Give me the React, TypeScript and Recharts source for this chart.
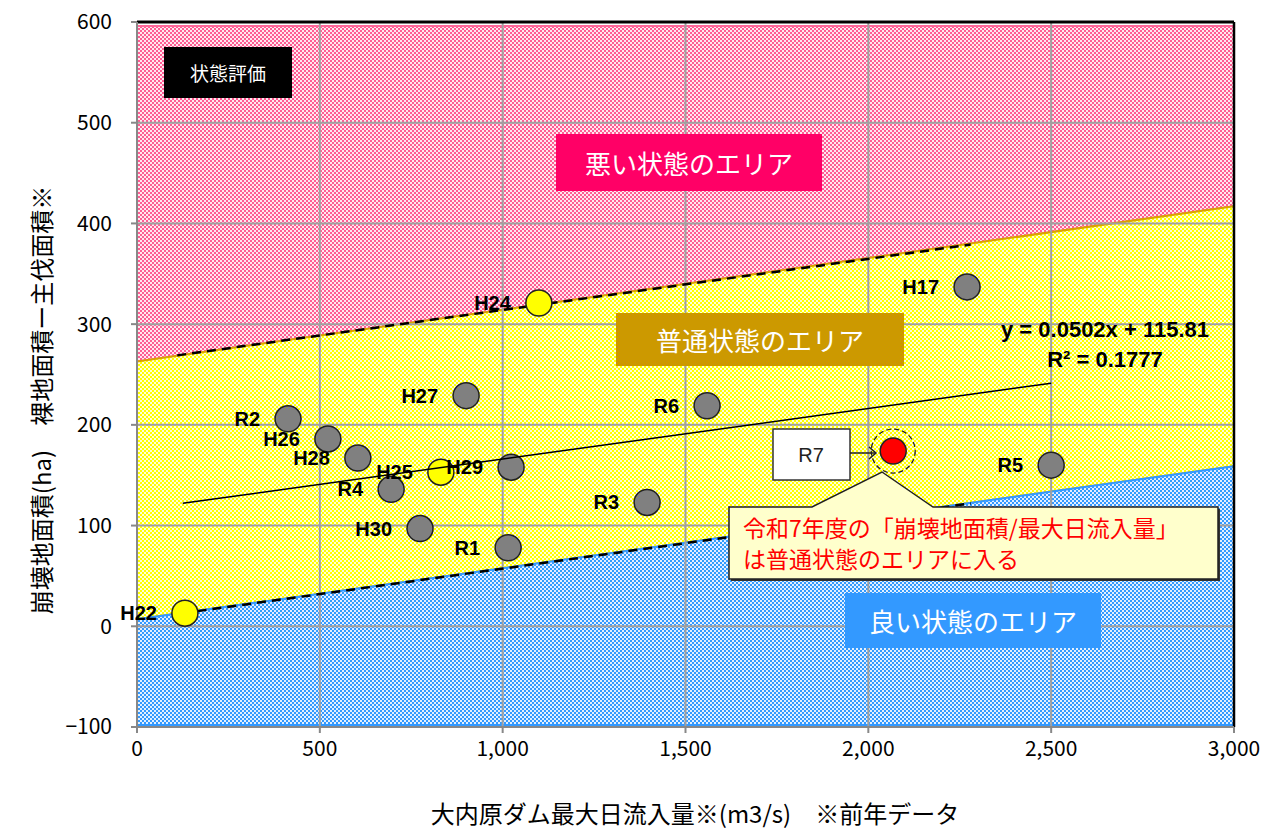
import {
  Area,
  ComposedChart,
  ReferenceLine,
  Scatter,
  XAxis,
  YAxis,
} from 'recharts';

// x = 大内原ダム最大日流入量 (m3/s), y = 崩壊地面積 (ha)
const xTicks = [0, 500, 1000, 1500, 2000, 2500, 3000];
const yTicks = [-100, 0, 100, 200, 300, 400, 500, 600];

// area boundaries
const boundaryFlow = [0, 3000];
const upperBoundary = [263, 417];
const lowerBoundary = [7, 159];
const areaTop = 596;
const areaBottom = -98;

// dashed guide lines along the boundaries
const upperGuideFlow = [110, 2280];
const upperGuideArea = [269, 379];
const lowerGuideFlow = [125, 2280];
const lowerGuideArea = [13, 122];

// past years (gray)
const grayLabels = ['H17', 'R6', 'H27', 'R2', 'H26', 'H28', 'R4', 'H30', 'R1', 'H29', 'R3', 'R5'];
const grayFlow = [2270, 1559, 900, 413, 522, 604, 695, 774, 1015, 1023, 1395, 2500];
const grayArea = [337, 219, 229, 206, 186, 167, 136, 97, 78, 158, 123, 160];

// boundary years (yellow)
const yellowLabels = ['H22', 'H24', 'H25'];
const yellowFlow = [131, 1099, 831];
const yellowArea = [13, 321, 153];

// this year
const currentLabel = 'R7';
const currentFlow = 2068;
const currentArea = 174;

// trend line y = 0.0502x + 115.81
const trendSlope = 0.0502;
const trendIntercept = 115.81;
const trendFlow = [125, 2500];

const FONT = "'Noto Sans CJK JP', 'Noto Sans', sans-serif";
const LABEL_FONT = "'Liberation Sans', Arial, sans-serif";

const bandRows = boundaryFlow.map((x, i) => ({
  x,
  good: [areaBottom, lowerBoundary[i]],
  normal: [lowerBoundary[i], upperBoundary[i]],
  bad: [upperBoundary[i], areaTop],
}));

const toPoints = (labels: string[], xs: number[], ys: number[]) =>
  xs.map((x, i) => ({ x, y: ys[i], label: labels[i] }));

const grayPoints = toPoints(grayLabels, grayFlow, grayArea);
const yellowPoints = toPoints(yellowLabels, yellowFlow, yellowArea);
const currentPoints = [{ x: currentFlow, y: currentArea, label: currentLabel }];
const labelPoints = [...yellowPoints, ...grayPoints];
const upperGuide = upperGuideFlow.map((x, i) => ({ x, y: upperGuideArea[i] }));
const lowerGuide = lowerGuideFlow.map((x, i) => ({ x, y: lowerGuideArea[i] }));
const trendPoints = trendFlow.map((x) => ({ x, y: trendSlope * x + trendIntercept }));

const noShape = () => <g />;

const dot = (fill: string) => (p: any) => (
  <circle cx={p.cx} cy={p.cy} r={13} fill={fill} stroke="#222" strokeWidth={1.5} />
);

const currentDot = (p: any) => (
  <g>
    <circle cx={p.cx} cy={p.cy} r={22} fill="none" stroke="#222" strokeWidth={1.3} strokeDasharray="5 3" />
    <circle cx={p.cx} cy={p.cy} r={13} fill="#FF0000" stroke="#222" strokeWidth={1.5} />
  </g>
);

const pointLabel = (p: any) => (
  <text
    x={p.cx - 28}
    y={p.cy}
    textAnchor="end"
    dominantBaseline="central"
    fontFamily={LABEL_FONT}
    fontWeight="bold"
    fontSize={20}
    fill="#000"
  >
    {p.payload.label}
  </text>
);

function Pattern({ id, color }: { id: string; color: string }) {
  return (
    <pattern id={id} width="4" height="4" patternUnits="userSpaceOnUse">
      <rect width="4" height="4" fill={color} />
      <rect x="0" y="0" width="2" height="2" fill="#fff" opacity="0.85" />
      <rect x="2" y="2" width="2" height="2" fill="#fff" opacity="0.85" />
    </pattern>
  );
}

function Tag({ x, y, w, h, bg, text, size }: any) {
  return (
    <g>
      <rect x={x} y={y} width={w} height={h} fill={bg} />
      <text
        x={x + w / 2}
        y={y + h / 2}
        textAnchor="middle"
        dominantBaseline="central"
        fill="#fff"
        fontSize={size}
        fontFamily={FONT}
      >
        {text}
      </text>
    </g>
  );
}

export default function App() {
  return (
    <div style={{ position: 'absolute', left: 0, top: 0, width: 1261, height: 830, background: '#fff' }}>
      <ComposedChart
        width={1261}
        height={830}
        data={bandRows}
        margin={{ top: 22, right: 27, left: 60, bottom: 63 }}
      >
        <defs>
          <Pattern id="hatchBad" color="#FF5C93" />
          <Pattern id="hatchNormal" color="#FFFF00" />
          <Pattern id="hatchGood" color="#3399FF" />
        </defs>
        <XAxis
          type="number"
          dataKey="x"
          domain={[0, 3000]}
          ticks={xTicks}
          height={40}
          tickSize={6}
          tickMargin={8}
          axisLine={{ stroke: '#888', strokeWidth: 2 }}
          tickLine={{ stroke: '#888', strokeWidth: 2 }}
          tick={{ fill: '#000', fontSize: 21, fontFamily: FONT }}
          tickFormatter={(v: number) => v.toLocaleString('en-US')}
        />
        <YAxis
          type="number"
          dataKey="y"
          domain={[-100, 600]}
          ticks={yTicks}
          width={77}
          tickSize={6}
          tickMargin={19}
          axisLine={{ stroke: '#888', strokeWidth: 2 }}
          tickLine={{ stroke: '#888', strokeWidth: 2 }}
          tick={{ fill: '#000', fontSize: 21, fontFamily: FONT }}
          tickFormatter={(v: number) => String(v).replace('-', '−')}
        />
        <Area
          type="linear"
          dataKey="bad"
          fill="url(#hatchBad)"
          fillOpacity={1}
          stroke="#FF6699"
          strokeWidth={2}
          isAnimationActive={false}
        />
        <Area
          type="linear"
          dataKey="normal"
          fill="url(#hatchNormal)"
          fillOpacity={1}
          stroke="#D9A300"
          strokeWidth={2}
          isAnimationActive={false}
        />
        <Area
          type="linear"
          dataKey="good"
          fill="url(#hatchGood)"
          fillOpacity={1}
          stroke="#3399FF"
          strokeWidth={2}
          isAnimationActive={false}
        />
        {xTicks.slice(1, -1).map((v) => (
          <ReferenceLine key={`gx${v}`} x={v} stroke="#A0A0A0" strokeWidth={2} />
        ))}
        {yTicks.slice(1, -1).map((v) => (
          <ReferenceLine key={`gy${v}`} y={v} stroke="#A0A0A0" strokeWidth={2} />
        ))}
        <ReferenceLine y={600} stroke="#000" strokeWidth={3} />
        <ReferenceLine x={3000} stroke="#000" strokeWidth={2.5} />
        <Scatter
          data={upperGuide}
          line={{ stroke: '#000', strokeWidth: 2.5, strokeDasharray: '9 6' }}
          shape={noShape}
          isAnimationActive={false}
        />
        <Scatter
          data={lowerGuide}
          line={{ stroke: '#000', strokeWidth: 2.5, strokeDasharray: '9 6' }}
          shape={noShape}
          isAnimationActive={false}
        />
        <Scatter data={yellowPoints} shape={dot('#FFFF00')} isAnimationActive={false} />
        <Scatter data={grayPoints} shape={dot('#808080')} isAnimationActive={false} />
        <Scatter data={currentPoints} shape={currentDot} isAnimationActive={false} />
        <Scatter data={labelPoints} shape={pointLabel} isAnimationActive={false} />
        <Scatter
          data={trendPoints}
          line={{ stroke: '#000', strokeWidth: 1.5 }}
          shape={noShape}
          isAnimationActive={false}
        />
      </ComposedChart>

      <svg
        width={1261}
        height={830}
        style={{ position: 'absolute', left: 0, top: 0, pointerEvents: 'none' }}
        fontFamily={FONT}
      >
        <Tag x={164} y={47} w={128} h={51} bg="#000" text="状態評価" size={19} />
        <Tag x={556} y={134} w={266} h={57} bg="#FF0066" text="悪い状態のエリア" size={26} />
        <Tag x={616} y={313} w={288} h={53} bg="#CC9900" text="普通状態のエリア" size={26} />
        <Tag x={845} y={593} w={256} h={55} bg="#3399FF" text="良い状態のエリア" size={26} />

        <g fontFamily={LABEL_FONT} fontWeight="bold" fontSize={22} fill="#000" textAnchor="middle">
          <text x={1105} y={337}>y = 0.0502x + 115.81</text>
          <text x={1105} y={367}>R² = 0.1777</text>
        </g>

        <rect x={773} y={429} width={77} height={51} fill="#fff" stroke="#333" strokeWidth={1.5} />
        <text x={811} y={455} textAnchor="middle" dominantBaseline="central" fontSize={20} fontFamily={LABEL_FONT} fill="#222">
          R7
        </text>
        <line x1={850} y1={453} x2={876} y2={453} stroke="#222" strokeWidth={1.5} />
        <polyline points="869,447 876,453 869,459" fill="none" stroke="#222" strokeWidth={1.5} />

        <path
          d="M731,509 L814,509 L884,474 L935,509 L1220,509 L1220,581 L731,581 Z"
          fill="#333"
        />
        <path
          d="M729,507 L812,507 L882,472 L933,507 L1218,507 L1218,579 L729,579 Z"
          fill="#FFFFCC"
          stroke="#222"
          strokeWidth={1.5}
        />
        <g fill="#FF0000" fontSize={23}>
          <text x={743} y={537}>令和7年度の「崩壊地面積/最大日流入量」</text>
          <text x={743} y={568}>は普通状態のエリアに入る</text>
        </g>

        <text
          transform="translate(40,400) rotate(-90)"
          textAnchor="middle"
          dominantBaseline="central"
          fontSize={24}
          fill="#000"
        >
          崩壊地面積(ha)　裸地面積ー主伐面積※
        </text>
        <text x={695} y={823} textAnchor="middle" fontSize={24} fill="#000">
          大内原ダム最大日流入量※(m3/s)　※前年データ
        </text>
      </svg>
    </div>
  );
}
